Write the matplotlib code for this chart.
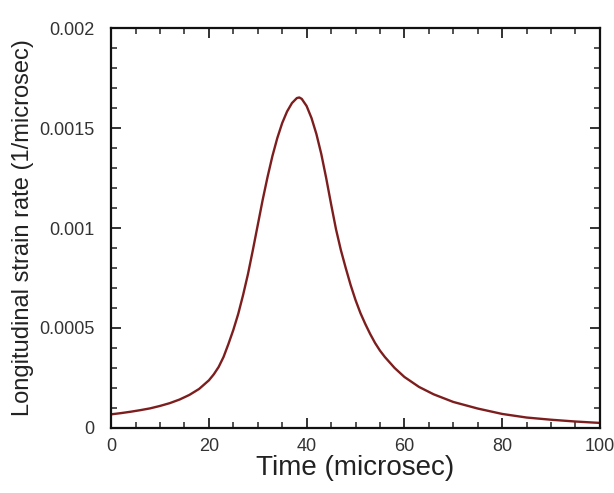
import numpy as np
import matplotlib
matplotlib.use("Agg")
import matplotlib.pyplot as plt
from matplotlib.ticker import MultipleLocator, FixedLocator, FixedFormatter

plt.rcParams["font.family"] = ["Liberation Sans", "DejaVu Sans"]

# strain-rate pulse
time_us = [0, 2, 4, 6, 8, 10, 12, 14, 16, 18,
           20, 21, 22, 23, 24, 25, 26, 27, 28, 29, 30, 31, 32, 33, 34, 35,
           36, 37, 38, 38.5, 39, 40, 41, 42, 43, 44, 45, 46, 47, 48, 49, 50,
           51, 52, 53, 54, 55, 56, 58, 60, 63, 66, 70, 75, 80, 85, 90, 95, 100]
strain_rate = [0.000068, 0.000074, 0.000081, 0.000089, 0.000098, 0.000110,
               0.000124, 0.000142, 0.000165, 0.000195,
               0.000238, 0.000268, 0.000305, 0.000355, 0.000420, 0.000490,
               0.000570, 0.000665, 0.000770, 0.000890, 0.001015, 0.001140,
               0.001255, 0.001360, 0.001450, 0.001525, 0.001583, 0.001625,
               0.001650, 0.001653, 0.001646, 0.001610, 0.001550, 0.001470,
               0.001370, 0.001250, 0.001120, 0.000995, 0.000890, 0.000800,
               0.000715, 0.000640, 0.000575, 0.000520, 0.000470, 0.000425,
               0.000387, 0.000355, 0.000300, 0.000255, 0.000205, 0.000168,
               0.000130, 0.000097, 0.000070, 0.000052, 0.000041, 0.000032,
               0.000025]

y_ticks = [0, 0.0005, 0.001, 0.0015, 0.002]
y_labels = ["0", "0.0005", "0.001", "0.0015", "0.002"]

fig = plt.figure(figsize=(6.14, 4.93), dpi=100)
ax = fig.add_axes([0.181, 0.132, 0.796, 0.811])
ax.plot(time_us, strain_rate, color="#7d1e1e", lw=1.7)

ax.set_xlim(0, 100)
ax.set_ylim(0, 0.002)
ax.xaxis.set_major_locator(MultipleLocator(20))
ax.xaxis.set_minor_locator(MultipleLocator(5))
ax.yaxis.set_major_locator(FixedLocator(y_ticks))
ax.yaxis.set_major_formatter(FixedFormatter(y_labels))
ax.yaxis.set_minor_locator(MultipleLocator(0.0001))

ax.tick_params(which="both", direction="in", top=True, right=True,
               colors="#222222", labelcolor="#333333", labelsize=13)
ax.tick_params(which="major", length=7, width=1.3)
ax.tick_params(which="minor", length=4, width=1.1)
ax.tick_params(axis="y", pad=12)
ax.tick_params(axis="x", pad=7)
for s in ax.spines.values():
    s.set_linewidth(1.6)
    s.set_color("#111111")

ax.set_xlabel("Time (microsec)", fontsize=20, color="#222222", labelpad=0)
ax.set_ylabel("Longitudinal strain rate (1/microsec)", fontsize=17,
              color="#222222", labelpad=4)

fig.savefig("out.png", dpi=100)
